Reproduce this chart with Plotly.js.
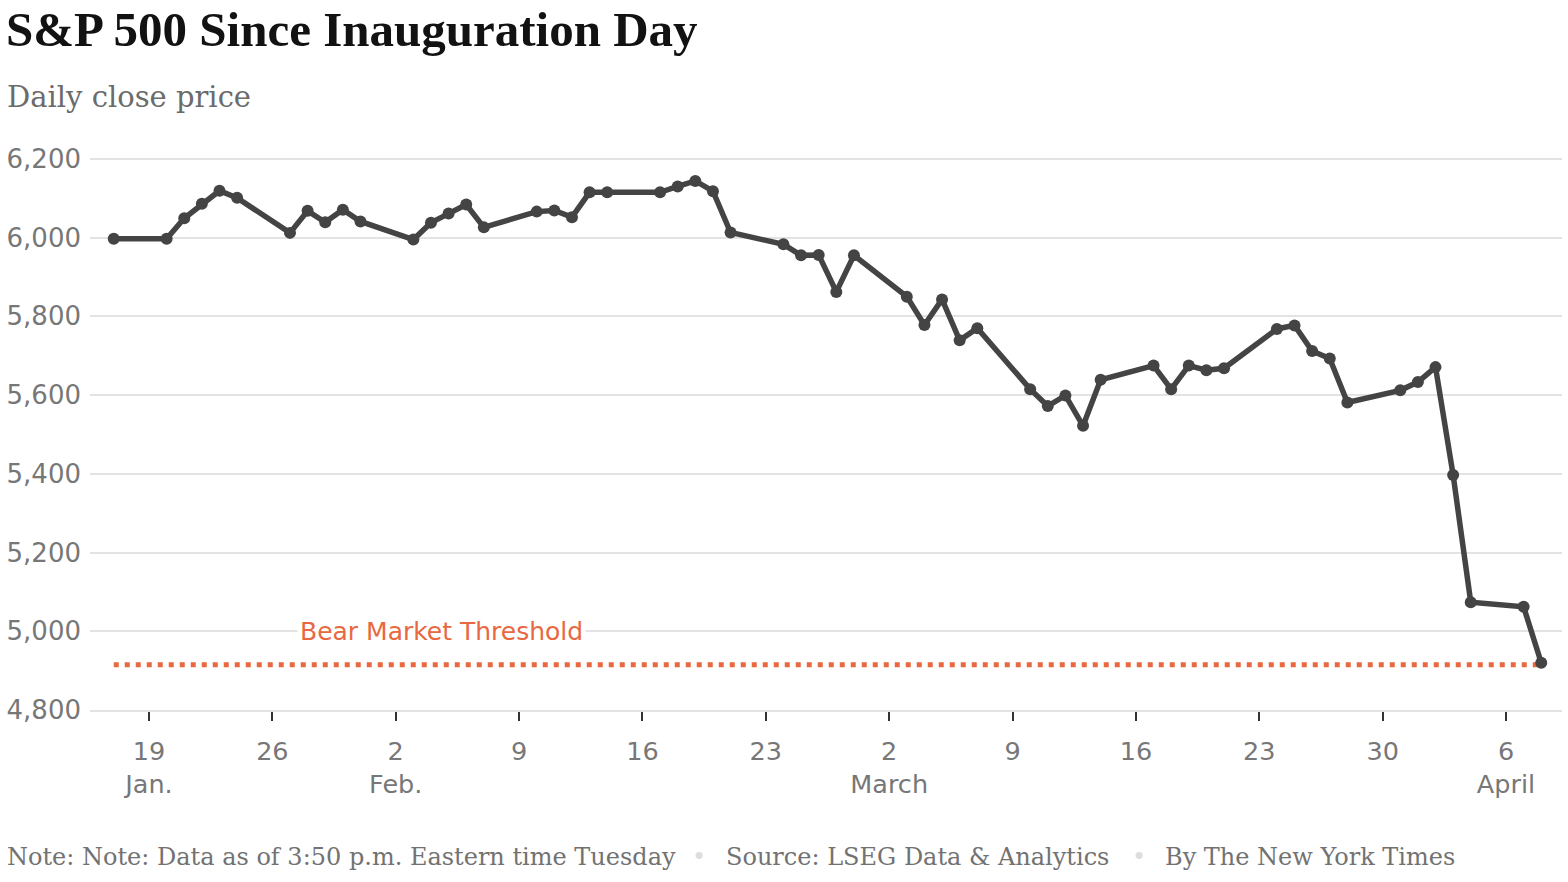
<!DOCTYPE html>
<html>
<head>
<meta charset="utf-8">
<script src="https://cdn.plot.ly/plotly-3.0.1.min.js"></script>
<style>html,body{margin:0;padding:0;background:#fff;}#chart{width:1568px;height:882px;}</style>
</head>
<body>
<div id="chart"></div>
<script>
// ---- data ----
const dates = [
  '2025-01-17','2025-01-20','2025-01-21','2025-01-22','2025-01-23','2025-01-24',
  '2025-01-27','2025-01-28','2025-01-29','2025-01-30','2025-01-31',
  '2025-02-03','2025-02-04','2025-02-05','2025-02-06','2025-02-07',
  '2025-02-10','2025-02-11','2025-02-12','2025-02-13','2025-02-14',
  '2025-02-17','2025-02-18','2025-02-19','2025-02-20','2025-02-21',
  '2025-02-24','2025-02-25','2025-02-26','2025-02-27','2025-02-28',
  '2025-03-03','2025-03-04','2025-03-05','2025-03-06','2025-03-07',
  '2025-03-10','2025-03-11','2025-03-12','2025-03-13','2025-03-14',
  '2025-03-17','2025-03-18','2025-03-19','2025-03-20','2025-03-21',
  '2025-03-24','2025-03-25','2025-03-26','2025-03-27','2025-03-28',
  '2025-03-31','2025-04-01','2025-04-02','2025-04-03','2025-04-04',
  '2025-04-07','2025-04-08'
];
const closes = [
  5997,5997,6049,6086,6119,6101,
  6012,6068,6039,6071,6041,
  5995,6038,6061,6084,6026,
  6066,6069,6052,6115,6115,
  6115,6130,6144,6118,6013,
  5983,5955,5956,5862,5955,
  5850,5778,5843,5739,5770,
  5615,5572,5599,5522,5639,
  5675,5615,5675,5663,5668,
  5768,5777,5712,5693,5581,
  5612,5633,5671,5397,5074,
  5062,4920
];
const thresholdLabel = 'Bear Market Threshold';
const thresholdValue = 4915;
const thresholdDates = ['2025-01-17','2025-04-08'];
const thresholdValues = [thresholdValue, thresholdValue];

const tickDates = ['2025-01-19','2025-01-26','2025-02-02','2025-02-09','2025-02-16','2025-02-23',
                   '2025-03-02','2025-03-09','2025-03-16','2025-03-23','2025-03-30','2025-04-06'];
const tickLabels = ['19<br>Jan.','26','2<br>Feb.','9','16','23','2<br>March','9','16','23','30','6<br>April'];
const yTicks = [4800,5000,5200,5400,5600,5800,6000,6200];

const titleText = 'S&P 500 Since Inauguration Day';
const subtitleText = 'Daily close price';
const noteText = 'Note: Note: Data as of 3:50 p.m. Eastern time Tuesday';
const sourceText = 'Source: LSEG Data & Analytics';
const bylineText = 'By The New York Times';

// ---- layout helpers ----
const W = 1568, H = 882, L = 90, R = 6, T = 151, B = 172;
const pw = W - L - R, ph = H - T - B;
const px = v => (v - L) / pw;
const py = v => (H - B - v) / ph;

const TITLE_SERIF = '"Liberation Serif", "Times New Roman", serif';
const SERIF = '"DejaVu Serif", "Liberation Serif", serif';
const SANS = '"DejaVu Sans", "Liberation Sans", Arial, sans-serif';
const ORANGE = '#e8683f';
const DARK = '#444444';
const GREY = '#777777';

const traces = [
  {
    x: thresholdDates, y: thresholdValues, type: 'scatter', mode: 'lines',
    line: {color: ORANGE, width: 5, dash: '5px,6px'}, hoverinfo: 'skip', cliponaxis: false
  },
  {
    x: dates, y: closes, type: 'scatter', mode: 'lines+markers',
    line: {color: DARK, width: 5.5}, marker: {color: DARK, size: 12},
    cliponaxis: false
  }
];

const footer = (text, x, color) => ({
  xref: 'paper', yref: 'paper', x: px(x), y: py(857), xanchor: 'left', yanchor: 'middle',
  text: text, showarrow: false, font: {family: SERIF, size: 24, color: color}
});

const layout = {
  width: W, height: H,
  margin: {l: L, r: R, t: T, b: B, pad: 0},
  paper_bgcolor: '#fff', plot_bgcolor: '#fff',
  showlegend: false,
  title: {
    text: '<b>' + titleText + '</b>', xref: 'container', yref: 'container',
    x: 6 / W, xanchor: 'left', y: 1 - 29 / H, yanchor: 'middle',
    font: {family: TITLE_SERIF, size: 49, color: '#121212'}
  },
  xaxis: {
    type: 'date',
    range: ['2025-01-15 15:39', '2025-04-09 04:16'],
    tickvals: tickDates, ticktext: tickLabels,
    showgrid: false, zeroline: false,
    showline: true, linecolor: '#e3e3e3', linewidth: 2,
    ticks: 'outside', ticklen: 9, tickwidth: 2, tickcolor: '#333',
    tickfont: {family: SANS, size: 25.5, color: GREY},
    ticklabelstandoff: 8
  },
  yaxis: {
    range: [4800, 6220],
    tickvals: yTicks, tickformat: ',',
    showgrid: true, gridcolor: '#e3e3e3', gridwidth: 2,
    zeroline: false, showline: false, ticks: '',
    tickfont: {family: SANS, size: 26, color: GREY},
    ticklabelstandoff: 8
  },
  annotations: [
    {
      xref: 'paper', yref: 'paper', x: px(5), y: py(97),
      xanchor: 'left', yanchor: 'middle', text: subtitleText, showarrow: false,
      font: {family: SERIF, size: 29, color: '#6b6b6b'}
    },
    {
      xref: 'paper', yref: 'y', x: px(297), y: 5000, xanchor: 'left', yanchor: 'middle',
      text: thresholdLabel, showarrow: false, bgcolor: '#fff', borderpad: 2,
      font: {family: SANS, size: 25, color: ORANGE}
    },
    footer(noteText, 5, '#727272'),
    footer('•', 690, '#dddddd'),
    footer(sourceText, 724, '#727272'),
    footer('•', 1130, '#dddddd'),
    footer(bylineText, 1163, '#727272')
  ]
};

Plotly.newPlot('chart', traces, layout, {displayModeBar: false, staticPlot: true});
</script>
</body>
</html>
